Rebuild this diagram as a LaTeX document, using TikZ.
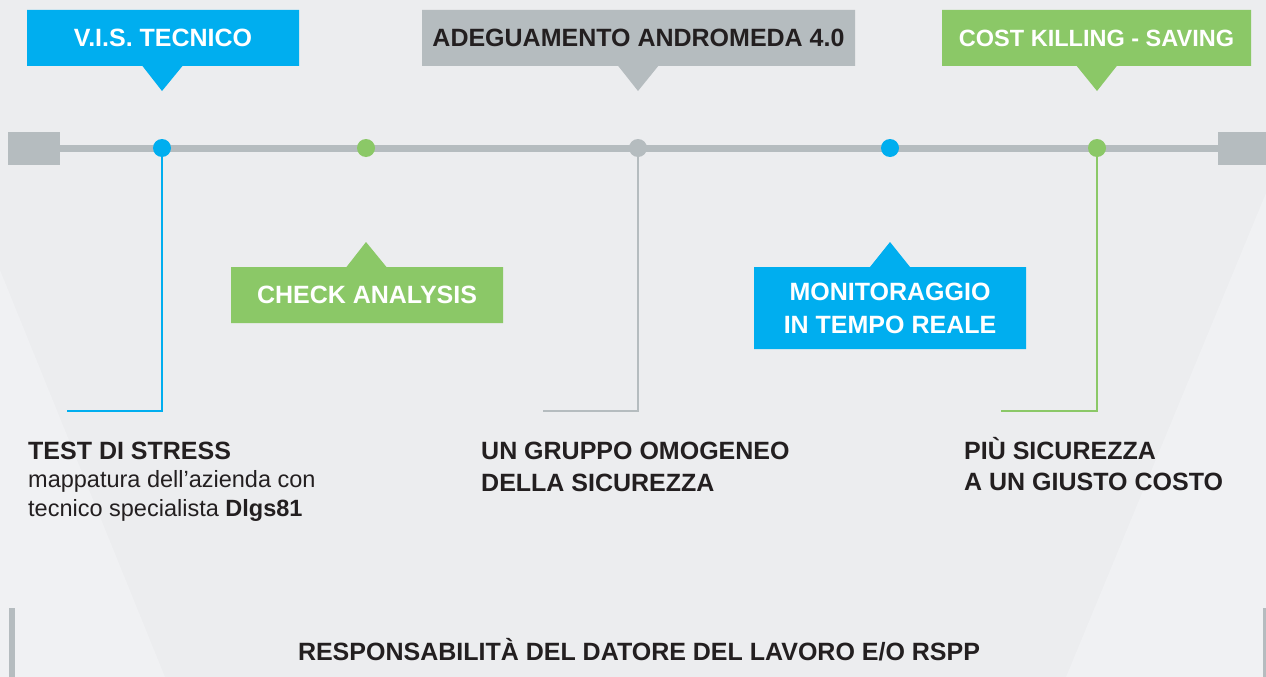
\documentclass[tikz,border=0pt]{standalone}
\usepackage{fontspec}
\setmainfont{Liberation Sans}
\usepackage{xcolor}
\usetikzlibrary{shapes.callouts}

\definecolor{visblue}{HTML}{00AEEF}
\definecolor{checkgreen}{HTML}{8BC867}
\definecolor{railgray}{HTML}{B5BCBF}
\definecolor{inkdark}{HTML}{231F20}
\definecolor{paper}{HTML}{ECEDEF}
\definecolor{paperlight}{HTML}{F0F1F3}

\begin{document}
\begin{tikzpicture}[x=1pt,y=-1pt,
    tag/.style={rectangle callout,callout pointer width=40pt,inner sep=0pt,
        minimum height=56pt,align=center,font=\fontsize{25}{33}\selectfont\bfseries},
    milestone/.style={circle,inner sep=0pt,minimum size=18pt},
    endcap/.style={rectangle,fill=railgray,inner sep=0pt,minimum width=52pt,minimum height=33pt},
    wire/.style={line width=2.5pt},
    caption/.style={anchor=base west,inner sep=0pt,align=left,text=inkdark}]

    % Background
    \fill[paper] (0,0) rectangle (1266,677);
    \fill[paperlight] (0,270) -- (165,677) -- (0,677) -- cycle;
    \fill[paperlight] (1266,193) -- (1066,677) -- (1266,677) -- cycle;
    \useasboundingbox (0,0) rectangle (1266,677);

    % Draw the timeline rail
    \node[endcap] (railL) at (34,148.5) {};
    \node[endcap] (railR) at (1244,148.5) {};
    \draw[railgray,line width=7pt] (railL.east) -- (railR.west);

    % Mark milestones
    \node[milestone,fill=visblue] (vis) at (162,148) {};
    \node[milestone,fill=checkgreen] (check) at (366,148) {};
    \node[milestone,fill=railgray] (andro) at (638,148) {};
    \node[milestone,fill=visblue] (monit) at (890,148) {};
    \node[milestone,fill=checkgreen] (cost) at (1097,148) {};

    % Pointer tips
    \coordinate (vistip) at (162,91);
    \coordinate (androtip) at (638,91);
    \coordinate (costtip) at (1097,91);
    \coordinate (checktip) at (366,242);
    \coordinate (monittip) at (890,242);

    % Labels above the rail
    \node[tag,fill=visblue,text=white,minimum width=272pt,
        callout absolute pointer={(vistip)}] (vistag) at (163,38) {V.I.S. TECNICO};
    \node[tag,fill=railgray,text=inkdark,minimum width=433pt,
        callout absolute pointer={(androtip)}] (androtag) at (638.5,38) {ADEGUAMENTO ANDROMEDA 4.0};
    \node[tag,fill=checkgreen,text=white,minimum width=309pt,font=\fontsize{23.5}{33}\selectfont\bfseries,
        callout absolute pointer={(costtip)}] (costtag) at (1096.5,38) {COST KILLING - SAVING};

    % Labels below the rail
    \node[tag,fill=checkgreen,text=white,minimum width=272pt,
        callout absolute pointer={(checktip)}] (checktag) at (367,295) {CHECK ANALYSIS};
    \node[tag,fill=visblue,text=white,minimum width=272pt,minimum height=82pt,
        callout absolute pointer={(monittip)}] (monittag) at (890,308) {MONITORAGGIO\\IN TEMPO REALE};

    % Drop lines
    \coordinate (visend) at (67,411);
    \coordinate (androend) at (543,411);
    \coordinate (costend) at (1001,411);
    \draw[wire,visblue] (vis) |- (visend);
    \draw[wire,railgray] (andro) |- (androend);
    \draw[wire,checkgreen] (cost) |- (costend);

    % Captions (anchored on the baseline of their last line)
    \node[caption,font=\fontsize{23.5}{28.5}\selectfont] (stress) at (28,516)
        {\textbf{\fontsize{25}{28.5}\selectfont TEST DI STRESS}\\
         mappatura dell’azienda con\\
         tecnico specialista \textbf{Dlgs81}};
    \node[caption,font=\fontsize{25}{32}\selectfont\bfseries] (gruppo) at (481,491)
        {UN GRUPPO OMOGENEO\\DELLA SICUREZZA};
    \node[caption,font=\fontsize{25}{31}\selectfont\bfseries] (costo) at (964,490)
        {PIÙ SICUREZZA\\A UN GIUSTO COSTO};

    % Bottom band
    \draw[railgray,line width=6pt] (12,608) -- (12,677);
    \draw[railgray,line width=6pt] (1266,608) -- (1266,677);
    \node[anchor=base,inner sep=0pt,text=inkdark,font=\fontsize{25}{30}\selectfont\bfseries]
        (datore) at (639,660) {RESPONSABILITÀ DEL DATORE DEL LAVORO E/O RSPP};
\end{tikzpicture}
\end{document}
